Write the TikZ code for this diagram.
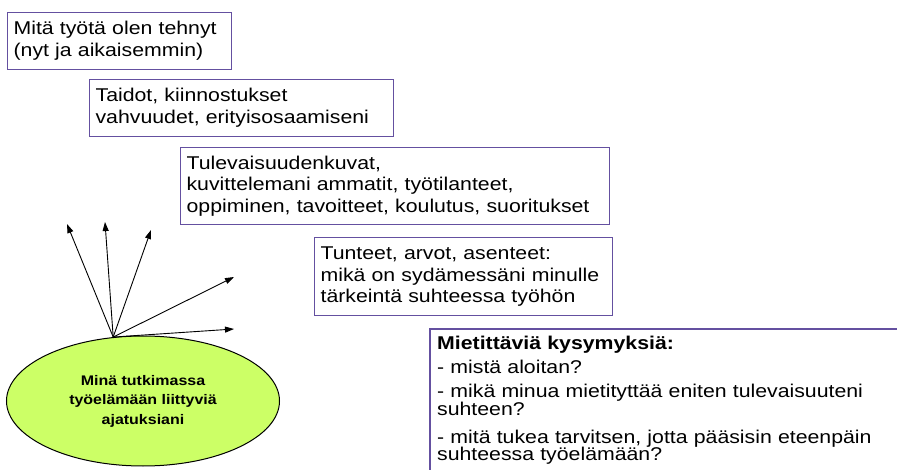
\documentclass[tikz,border=0pt]{standalone}
\usepackage{fontspec}
\setmainfont{Liberation Sans}[FakeStretch=1.15]
\usetikzlibrary{arrows.meta,shapes.geometric}
\definecolor{boxline}{RGB}{100,80,160}
\definecolor{ellfill}{RGB}{204,255,102}
\begin{document}
\begin{tikzpicture}[x=1pt,y=-1pt,
  tbox/.style={draw=boxline, line width=1.2pt, anchor=north west, inner xsep=6pt, inner ysep=0pt, align=left,
    font=\fontsize{18.5}{21.8}\selectfont},
  arr/.style={-{Triangle[length=9pt,width=6pt]}, line width=0.9pt}]
\useasboundingbox (0,0) rectangle (897,470);
\node[tbox, minimum width=224pt, minimum height=57pt, text width=212pt] (b1) at (7,12)
  {Mitä työtä olen tehnyt\\(nyt ja aikaisemmin)};
\node[tbox, minimum width=304pt, minimum height=57pt, text width=292pt] (b2) at (89,79)
  {Taidot, kiinnostukset\\vahvuudet, erityisosaamiseni};
\node[tbox, minimum width=429pt, minimum height=77pt, text width=417pt] (b3) at (180,147)
  {Tulevaisuudenkuvat,\\kuvittelemani ammatit, työtilanteet,\\oppiminen, tavoitteet, koulutus, suoritukset};
\node[tbox, minimum width=298pt, minimum height=78pt, text width=286pt] (b4) at (314,237)
  {Tunteet, arvot, asenteet:\\mikä on sydämessäni minulle\\tärkeintä suhteessa työhön};
\node[anchor=north west, inner xsep=7pt, inner ysep=7pt, text width=450pt, align=left,
  font=\fontsize{18.5}{17.5}\selectfont] (b5) at (430,329)
  {\textbf{Mietittäviä kysymyksiä:}\\[6.5pt]
   - mistä aloitan?\\[6.5pt]
   - mikä minua mietityttää eniten tulevaisuuteni\\suhteen?\\[10.5pt]
   - mitä tukea tarvitsen, jotta pääsisin eteenpäin\\suhteessa työelämään?};
\draw[boxline, line width=1.2pt] (430,475) coordinate (b5sw) -- (b5.north west) -- (900,329) coordinate (b5ne);
\node[ellipse, draw=black, line width=1pt, fill=ellfill, minimum width=273pt, minimum height=130pt,
  align=center, font=\fontsize{13.9}{19.5}\selectfont\bfseries] (ell) at (143,401)
  {Minä tutkimassa\\työelämään liittyviä\\ajatuksiani};
\coordinate (o) at (ell.115);
\coordinate (t1) at (67,224);
\coordinate (t2) at (105,222);
\coordinate (t3) at (151,230);
\coordinate (t4) at (234,277);
\coordinate (t5) at (234,329);
\foreach \t in {t1,t2,t3,t4,t5} \draw[arr] (o) -- (\t);
\end{tikzpicture}
\end{document}
